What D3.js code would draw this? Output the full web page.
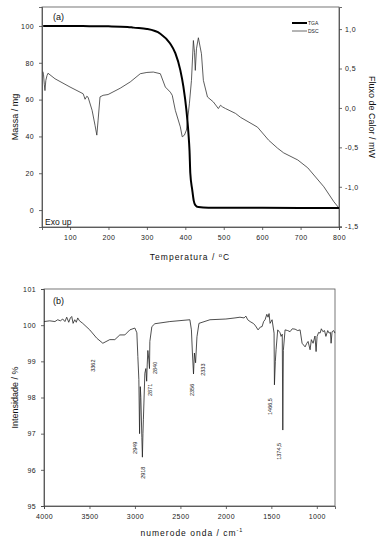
<!DOCTYPE html>
<html>
<head>
<meta charset="utf-8">
<script src="https://cdn.jsdelivr.net/npm/d3@7"></script>
<style>
  body { margin: 0; background: #fff; }
  svg { font-family: "Liberation Sans", Arial, sans-serif; }
  .tick text { font-size: 7px; fill: #222; letter-spacing: 0.4px; }
  .domain, .tick line { stroke: #444; stroke-width: 0.8; }
</style>
</head>
<body>
<div id="chart"></div>
<script>
// ---- panel (a): TGA (mass, mg) and DSC (heat flow, mW) vs temperature
const tga = [[30,100],[100,100],[150,99.9],[200,99.8],[250,99.5],[265,99.1],[300,98.4],[335,95.8],
  [360,90.6],[374,85.2],[387,76],[395,67],[403,54],[408,42],[411,32],[413,20],[418,11],[422,5],
  [426,2.7],[434,1.6],[460,1.3],[600,1.2],[800,1.1]]

const dsc = [[29.5,0.46],[31,0.42],[33,0.3],[34.7,0.22],[37,0.35],[40,0.41],[42.6,0.44],[60.8,0.37],
  [100,0.265],[134,0.18],[136.5,0.148],[139,0.11],[143.6,0.148],[147,0.135],[157.4,-0.03],[165,-0.22],
  [169.7,-0.345],[173,-0.155],[178,0.14],[186,0.16],[199,0.17],[230.5,0.25],[256.7,0.33],[282.8,0.434],
  [300,0.45],[316.7,0.455],[335,0.434],[348,0.265],[361,0.2],[366,0.16],[374,-0.03],[387,-0.24],
  [392,-0.366],[397.7,-0.345],[403,-0.28],[410.7,0.06],[416,0.35],[421,0.855],[424,0.7],[426,0.476],
  [429,0.75],[434,0.89],[442,0.687],[447,0.35],[457.7,0.139],[473,0.076],[486,-0.008],[491.6,0.034],
  [496.9,0.013],[504.7,-0.008],[530.8,-0.07],[544,-0.12],[588,-0.244],[617,-0.41],[640,-0.51],
  [656,-0.57],[692.7,-0.66],[718.8,-0.76],[760.6,-1.0],[786.7,-1.19],[800,-1.27]]

const tempTicks = [100,200,300,400,500,600,700,800]
const massTicks = [0,20,40,60,80,100]
const flowTicks = [-1.5,-1.0,-0.5,0.0,0.5,1.0]

// ---- panel (b): IR spectrum (intensity %) vs wavenumber
const ir = [[4000,100.1],[3937,100.12],[3880,100.1],[3849,100.15],[3820,100.12],[3794,100.17],[3770,100.1],
  [3750,100.22],[3728,100.08],[3710,100.2],[3695,100.24],[3680,100.05],[3662,100.15],[3645,100.08],
  [3629,100.2],[3610,100.12],[3574,100.05],[3497,99.87],[3420,99.64],[3353,99.5],[3277,99.6],
  [3221,99.6],[3166,99.73],[3111,99.73],[3056,99.87],[3001,99.92],[2979,99.79],[2968,99.13],
  [2957,98.5],[2949,97.0],[2941,98.3],[2935,98.0],[2924,96.9],[2918,96.35],[2912,97.0],[2907,97.4],
  [2891,98.67],[2880,98.8],[2871,98.45],[2865,98.9],[2858,99.3],[2847,99.04],[2840,98.8],[2836,99.55],
  [2814,99.96],[2781,100.04],[2616,100.1],[2396,100.15],[2379,99.87],[2368,99.23],[2356,98.65],
  [2346,99.23],[2333,98.96],[2318,99.68],[2296,100.05],[2175,100.15],[2000,100.17],[1900,100.2],
  [1845,100.22],[1800,100.2],[1780,100.25],[1760,100.15],[1734,100.1],[1700,100.05],[1679,100.0],
  [1646,99.87],[1620,99.95],[1602,99.96],[1585,100.1],[1569,100.15],[1550,100.3],[1536,100.22],
  [1525,100.32],[1514,100.05],[1492,100.15],[1470,99.78],[1466,98.35],[1456,99.0],[1448,99.32],
  [1430,99.87],[1404,99.79],[1393,99.69],[1380,99.75],[1374,97.1],[1368,99.3],[1349,99.87],
  [1320,99.85],[1294,99.82],[1270,99.9],[1239,99.89],[1210,99.85],[1184,99.87],[1162,99.5],
  [1129,99.4],[1110,99.5],[1096,99.55],[1074,99.32],[1060,99.6],[1041,99.5],[1020,99.7],[1008,99.27],
  [997,99.69],[980,99.8],[964,99.78],[950,99.9],[933,99.82],[915,99.85],[900,99.69],[880,99.85],
  [865,99.78],[850,99.8],[843,99.5],[832,99.82],[815,99.85],[800,99.78]]

const wnTicks = [4000,3500,3000,2500,2000,1500,1000]
const intTicks = [95,96,97,98,99,100,101]

// peak labels: text, wavenumber and intensity where the label sits
const peaks = [
  {t:"3362", wn:3464, at:98.88}, {t:"2871", wn:2836, at:98.21}, {t:"2840", wn:2781, at:98.82},
  {t:"2949", wn:3001, at:96.61}, {t:"2918", wn:2910, at:95.92}, {t:"2356", wn:2370, at:98.21},
  {t:"2333", wn:2249, at:98.77}, {t:"1466,5", wn:1514, at:97.75}, {t:"1374,5", wn:1412, at:96.51}
]

const W = 389, H = 546
const svg = d3.select("#chart").append("svg").attr("width", W).attr("height", H)

const comma = f => v => f(v).replace(".", ",").replace("\u2212", "-")

// ================= panel a =================
const a = { left: 42, right: 339, top: 7, bottom: 227 }
const xA = d3.scaleLinear().domain([27, 800]).range([a.left, a.right])
const yMass = d3.scaleLinear().domain([-9.2, 110.3]).range([a.bottom, a.top])
const yFlow = d3.scaleLinear().domain([-1.51, 1.28]).range([a.bottom, a.top])

svg.append("rect").attr("x", a.left).attr("y", a.top)
  .attr("width", a.right - a.left).attr("height", a.bottom - a.top)
  .attr("fill", "none").attr("stroke", "#555").attr("stroke-width", 0.8)

const gxA = svg.append("g").attr("transform", `translate(0,${a.bottom})`)
gxA.call(d3.axisBottom(xA).tickValues(d3.range(50, 801, 50)).tickSize(2).tickFormat(""))
gxA.call(d3.axisBottom(xA).tickValues(tempTicks).tickSize(3).tickPadding(5))

const gyA = svg.append("g").attr("transform", `translate(${a.left},0)`)
gyA.call(d3.axisLeft(yMass).tickValues(d3.range(-0, 111, 10)).tickSize(2).tickFormat(""))
gyA.call(d3.axisLeft(yMass).tickValues(massTicks).tickSize(3).tickPadding(5))

const gyA2 = svg.append("g").attr("transform", `translate(${a.right},0)`)
gyA2.call(d3.axisRight(yFlow).tickValues(d3.range(-1.5, 1.26, 0.25)).tickSize(2).tickFormat(""))
gyA2.call(d3.axisRight(yFlow).tickValues(flowTicks).tickSize(3).tickPadding(3).tickFormat(comma(d3.format(".1f"))))

svg.append("path").datum(dsc)
  .attr("fill", "none").attr("stroke", "#333").attr("stroke-width", 0.8)
  .attr("d", d3.line().x(d => xA(d[0])).y(d => yFlow(d[1])))

svg.append("path").datum(tga)
  .attr("fill", "none").attr("stroke", "#000").attr("stroke-width", 2)
  .attr("d", d3.line().curve(d3.curveMonotoneX).x(d => xA(d[0])).y(d => yMass(d[1])))

// legend
const leg = svg.append("g").attr("font-size", 5).attr("fill", "#222")
leg.append("line").attr("x1", 292).attr("x2", 307).attr("y1", 23).attr("y2", 23).attr("stroke", "#000").attr("stroke-width", 2)
leg.append("text").attr("x", 308).attr("y", 25).text("TGA")
leg.append("line").attr("x1", 292).attr("x2", 307).attr("y1", 31).attr("y2", 31).attr("stroke", "#444").attr("stroke-width", 0.8)
leg.append("text").attr("x", 308).attr("y", 33).text("DSC")

svg.append("text").attr("x", 53).attr("y", 20).attr("font-size", 9).attr("fill", "#111").text("(a)")
svg.append("text").attr("x", 45).attr("y", 225).attr("font-size", 8.5).attr("fill", "#111").text("Exo up")

const tl = svg.append("text").attr("x", 190).attr("y", 260).attr("text-anchor", "middle")
  .attr("font-size", 8.5).attr("letter-spacing", 1).attr("fill", "#111")
tl.append("tspan").text("Temperatura / ")
tl.append("tspan").attr("dy", -3).attr("font-size", 6).text("o")
tl.append("tspan").attr("dy", 3).text("C")

svg.append("text").attr("transform", `translate(18,${(a.top + a.bottom) / 2}) rotate(-90)`)
  .attr("text-anchor", "middle").attr("font-size", 9).attr("fill", "#111").text("Massa / mg")
svg.append("text").attr("transform", `translate(369,${(a.top + a.bottom) / 2}) rotate(90)`)
  .attr("text-anchor", "middle").attr("font-size", 9).attr("fill", "#111").text("Fluxo de Calor / mW")

// ================= panel b =================
const b = { left: 44, right: 335, top: 289, bottom: 506 }
const xB = d3.scaleLinear().domain([4000, 800]).range([b.left, b.right])
const yB = d3.scaleLinear().domain([95, 101]).range([b.bottom, b.top])

svg.append("rect").attr("x", b.left).attr("y", b.top)
  .attr("width", b.right - b.left).attr("height", b.bottom - b.top)
  .attr("fill", "none").attr("stroke", "#555").attr("stroke-width", 0.8)

const gxB = svg.append("g").attr("transform", `translate(0,${b.bottom})`)
gxB.call(d3.axisBottom(xB).tickValues(d3.range(1000, 4001, 250)).tickSize(2).tickFormat(""))
gxB.call(d3.axisBottom(xB).tickValues(wnTicks).tickSize(3).tickPadding(5).tickFormat(d3.format("d")))

const gyB = svg.append("g").attr("transform", `translate(${b.left},0)`)
gyB.call(d3.axisLeft(yB).tickValues(d3.range(95, 101.01, 0.5)).tickSize(2).tickFormat(""))
gyB.call(d3.axisLeft(yB).tickValues(intTicks).tickSize(3).tickPadding(5).tickFormat(d3.format("d")))

svg.append("path").datum(ir)
  .attr("fill", "none").attr("stroke", "#222").attr("stroke-width", 0.8)
  .attr("d", d3.line().x(d => xB(d[0])).y(d => yB(d[1])))

svg.append("g").selectAll("text").data(peaks).join("text")
  .attr("transform", d => `translate(${xB(d.wn)},${yB(d.at)}) rotate(-90)`)
  .attr("text-anchor", "middle").attr("dominant-baseline", "central")
  .attr("font-size", 5.5).attr("fill", "#222").text(d => d.t)

svg.append("text").attr("x", 53).attr("y", 304).attr("font-size", 9).attr("fill", "#111").text("(b)")

const nl = svg.append("text").attr("x", 192).attr("y", 536).attr("text-anchor", "middle")
  .attr("font-size", 8.5).attr("letter-spacing", 1).attr("fill", "#111")
nl.append("tspan").text("numerode onda / cm")
nl.append("tspan").attr("dy", -4).attr("font-size", 5.5).text("-1")

svg.append("text").attr("transform", `translate(18,${(b.top + b.bottom) / 2}) rotate(-90)`)
  .attr("text-anchor", "middle").attr("font-size", 9).attr("fill", "#111").text("Intensidade / %")
</script>
</body>
</html>
